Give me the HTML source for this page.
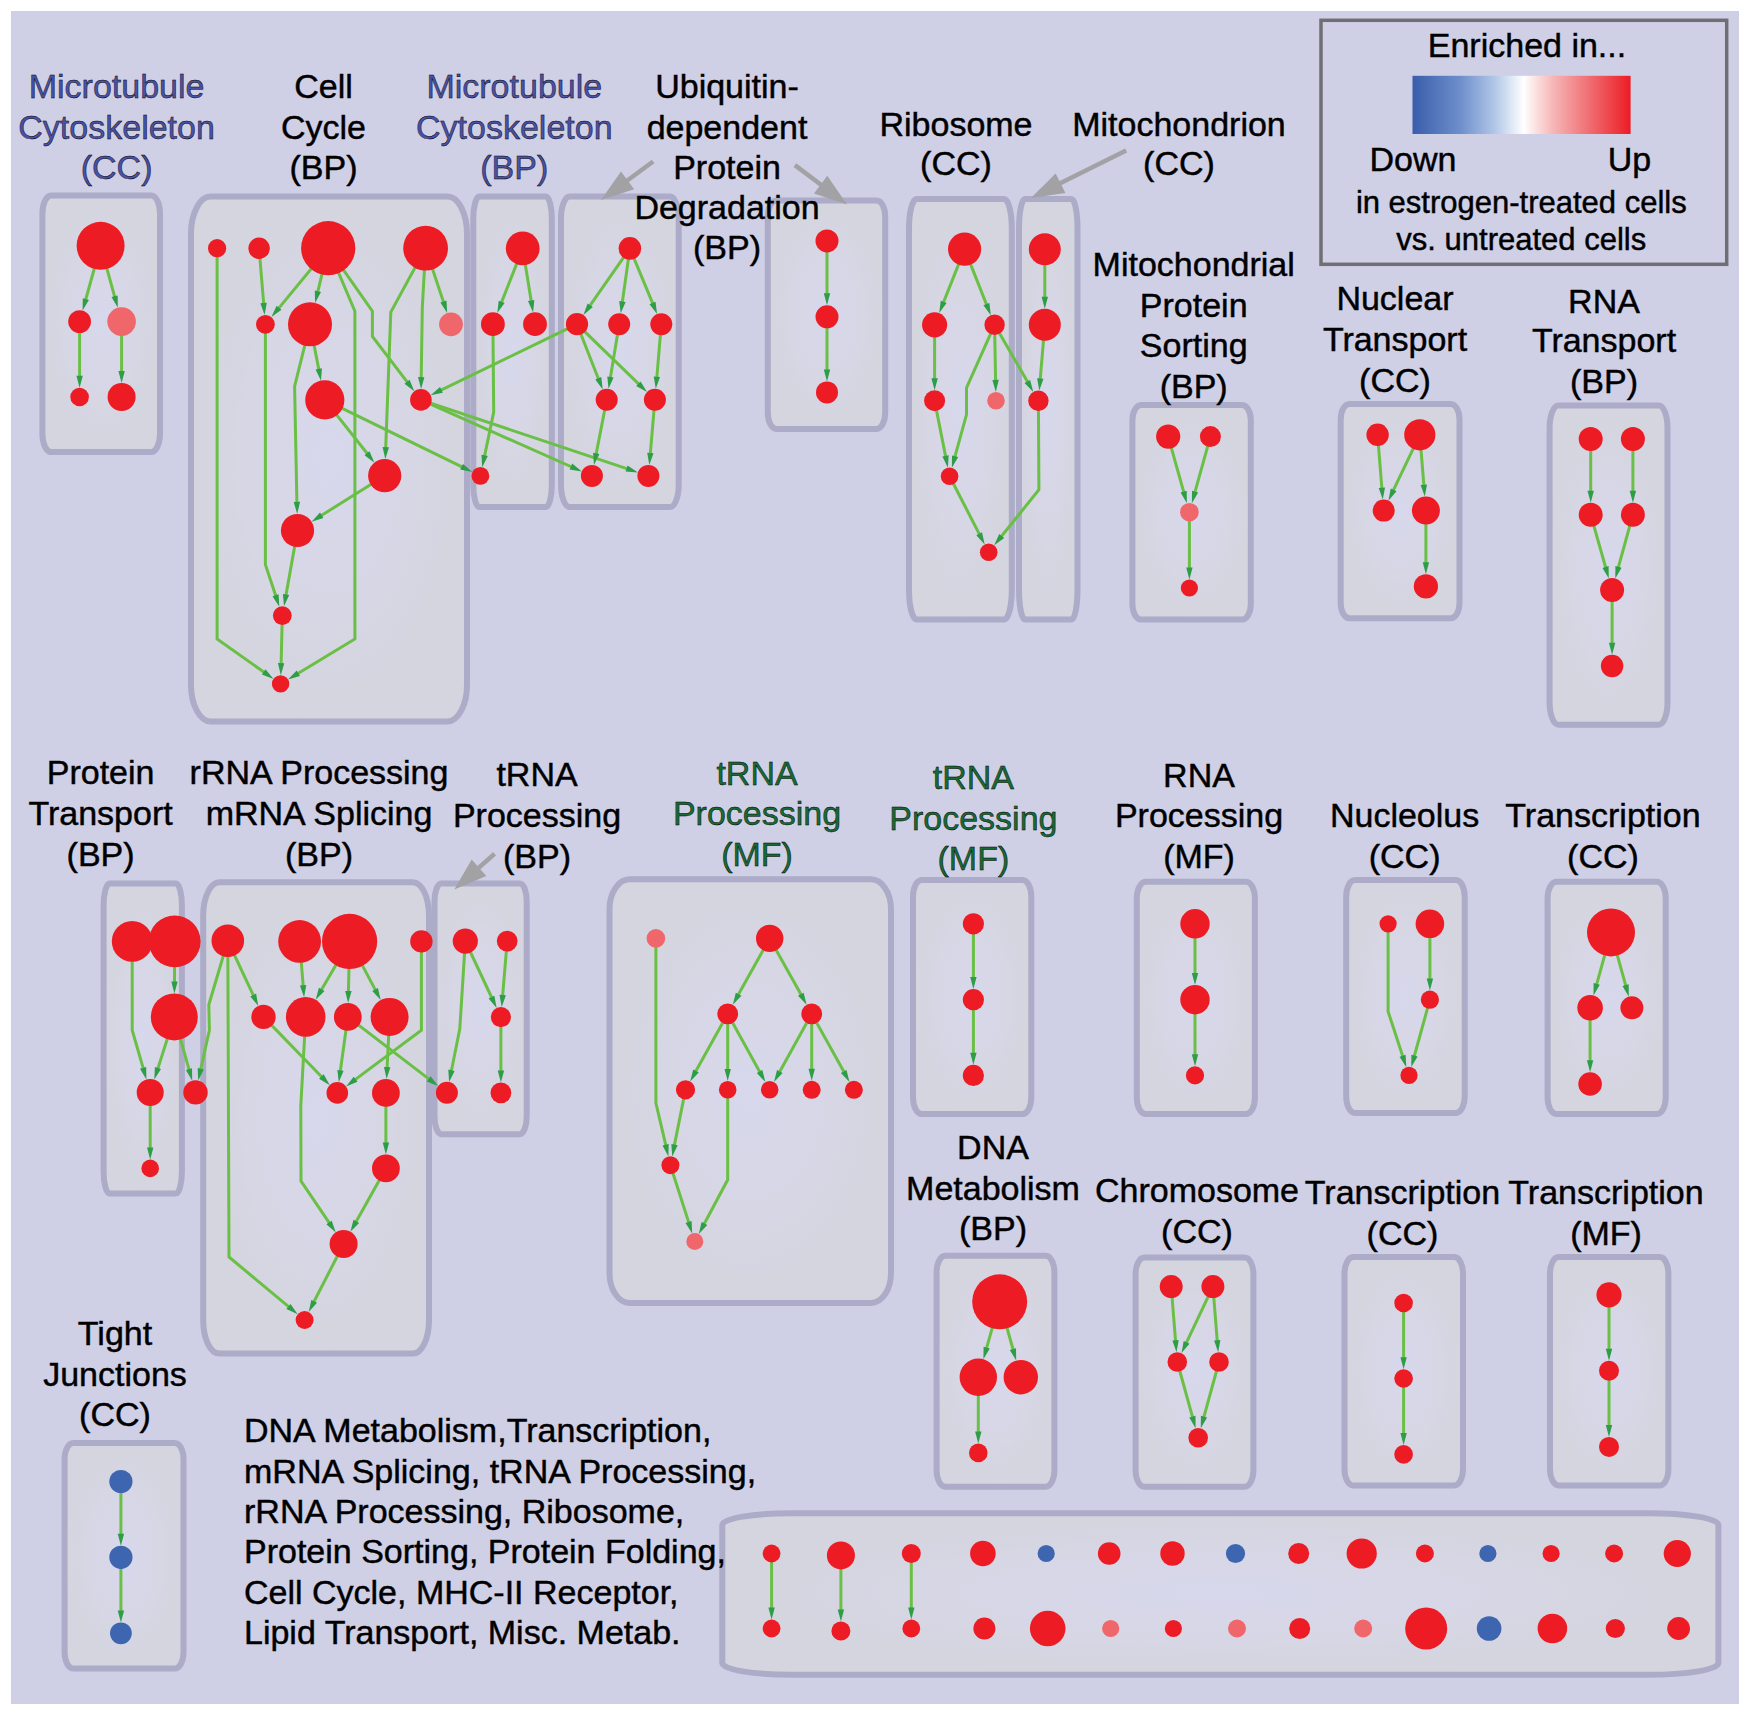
<!DOCTYPE html><html><head><meta charset="utf-8"><style>html,body{margin:0;padding:0;background:#fff;width:1750px;height:1715px;overflow:hidden}svg{display:block}text{font-family:"Liberation Sans",sans-serif;stroke:#000;stroke-width:0.45px}</style></head><body>
<svg width="1750" height="1715" viewBox="0 0 1750 1715">
<defs><radialGradient id="bx" cx="0.5" cy="0.5" r="0.5"><stop offset="0" stop-color="#d8d8ed"/><stop offset="1" stop-color="#d5d5df"/></radialGradient>
<linearGradient id="lg" x1="0" x2="1" y1="0" y2="0"><stop offset="0" stop-color="#3a5dab"/><stop offset="0.22" stop-color="#6e8fcc"/><stop offset="0.38" stop-color="#b3c8e8"/><stop offset="0.51" stop-color="#ffffff"/><stop offset="0.64" stop-color="#f7b8b9"/><stop offset="0.82" stop-color="#ef6a6e"/><stop offset="1" stop-color="#ed1c24"/></linearGradient></defs>
<rect x="11" y="11" width="1728" height="1693" fill="#cfcfe6"/>
<rect x="42.4" y="195.4" width="117.6" height="256.6" rx="8.7" ry="18.4" fill="url(#bx)" stroke="#acacc9" stroke-width="6"/>
<rect x="191" y="196.6" width="276" height="525" rx="19.7" ry="37.2" fill="url(#bx)" stroke="#acacc9" stroke-width="6"/>
<rect x="473.3" y="196.5" width="78.5" height="310.5" rx="6" ry="22.2" fill="url(#bx)" stroke="#acacc9" stroke-width="6"/>
<rect x="561" y="196.5" width="117.7" height="310.5" rx="8.7" ry="22.2" fill="url(#bx)" stroke="#acacc9" stroke-width="6"/>
<rect x="767.8" y="200.4" width="117.4" height="228.6" rx="8.6" ry="16.4" fill="url(#bx)" stroke="#acacc9" stroke-width="6"/>
<rect x="909" y="199" width="102.8" height="420.5" rx="7.6" ry="29.9" fill="url(#bx)" stroke="#acacc9" stroke-width="6"/>
<rect x="1019" y="199" width="58.5" height="420.5" rx="6" ry="29.9" fill="url(#bx)" stroke="#acacc9" stroke-width="6"/>
<rect x="1132.4" y="405" width="118.4" height="214.5" rx="8.7" ry="15.4" fill="url(#bx)" stroke="#acacc9" stroke-width="6"/>
<rect x="1340.7" y="404" width="118.8" height="214.3" rx="8.7" ry="15.4" fill="url(#bx)" stroke="#acacc9" stroke-width="6"/>
<rect x="1549.6" y="405.4" width="117.9" height="319.3" rx="8.7" ry="22.8" fill="url(#bx)" stroke="#acacc9" stroke-width="6"/>
<rect x="103.6" y="883.6" width="78.3" height="309.9" rx="6" ry="22.1" fill="url(#bx)" stroke="#acacc9" stroke-width="6"/>
<rect x="203.2" y="882.2" width="225.8" height="471.4" rx="16.2" ry="33.4" fill="url(#bx)" stroke="#acacc9" stroke-width="6"/>
<rect x="434.5" y="883.4" width="92.2" height="250.8" rx="6.9" ry="18" fill="url(#bx)" stroke="#acacc9" stroke-width="6"/>
<rect x="609.5" y="879.3" width="281.5" height="423.7" rx="20.1" ry="30.1" fill="url(#bx)" stroke="#acacc9" stroke-width="6"/>
<rect x="913" y="879.9" width="118.3" height="234.2" rx="8.7" ry="16.8" fill="url(#bx)" stroke="#acacc9" stroke-width="6"/>
<rect x="1136.8" y="881.8" width="118.1" height="232.3" rx="8.7" ry="16.7" fill="url(#bx)" stroke="#acacc9" stroke-width="6"/>
<rect x="1346.2" y="880.1" width="118.5" height="232.9" rx="8.7" ry="16.7" fill="url(#bx)" stroke="#acacc9" stroke-width="6"/>
<rect x="1547.6" y="881.8" width="118.1" height="232.2" rx="8.7" ry="16.7" fill="url(#bx)" stroke="#acacc9" stroke-width="6"/>
<rect x="936.6" y="1255.7" width="117.8" height="231.1" rx="8.7" ry="16.6" fill="url(#bx)" stroke="#acacc9" stroke-width="6"/>
<rect x="1135.6" y="1257.6" width="117.8" height="229.2" rx="8.7" ry="16.5" fill="url(#bx)" stroke="#acacc9" stroke-width="6"/>
<rect x="1344.5" y="1257" width="118.5" height="228.4" rx="8.7" ry="16.4" fill="url(#bx)" stroke="#acacc9" stroke-width="6"/>
<rect x="1550" y="1257" width="118.4" height="228.4" rx="8.7" ry="16.4" fill="url(#bx)" stroke="#acacc9" stroke-width="6"/>
<rect x="64.6" y="1442.9" width="118.9" height="225.6" rx="8.7" ry="16.2" fill="url(#bx)" stroke="#acacc9" stroke-width="6"/>
<rect x="722.3" y="1513.2" width="996.1" height="161.6" rx="70.1" ry="11.7" fill="url(#bx)" stroke="#acacc9" stroke-width="6"/>
<g fill="none" stroke="#6abf45" stroke-width="3" stroke-linejoin="miter"><polyline points="100.6,245.8 85.6,300"/><polyline points="100.6,245.8 114.8,297.2"/><polyline points="79.6,321.6 79.6,376.7"/><polyline points="121.6,321.6 121.6,372"/><polyline points="217.1,248.2 217.1,639 264.5,672.5"/><polyline points="259.1,248.2 263.7,304"/><polyline points="328.2,248.2 278.4,308.6"/><polyline points="328.2,248.2 317.7,292.2"/><polyline points="328.2,248.2 354.9,311.2 354.9,639 297.5,673.7"/><polyline points="328.2,248.2 372.4,311.2 372.4,336.5 407.7,382.6"/><polyline points="425.6,248.2 390.8,312.1 385.7,448.1"/><polyline points="425.6,248.2 422.3,307.7 421.2,378.1"/><polyline points="425.6,248.2 443.7,302.6"/><polyline points="265.4,324.3 265.4,564.6 275.9,596.2"/><polyline points="310,324.3 294.6,386.4 296.9,502.9"/><polyline points="310,324.3 318.9,369.9"/><polyline points="324.8,399.9 367.6,454"/><polyline points="324.8,399.9 462.5,467.2"/><polyline points="420.9,399.9 571.8,467"/><polyline points="420.9,399.9 627.5,468.9"/><polyline points="384.7,475.7 320.9,515.8"/><polyline points="297.5,530.5 285.9,595.5"/><polyline points="282.3,615.6 281.1,664.2"/><polyline points="577,324.2 440.5,390.4"/><polyline points="522.7,248.4 501.3,302.9"/><polyline points="522.7,248.4 531.3,301.6"/><polyline points="492.9,324.2 493.7,412 484.5,456.4"/><polyline points="629.9,248.4 589.6,306.1"/><polyline points="629.9,248.4 622.3,302.4"/><polyline points="629.9,248.4 652.9,303.9"/><polyline points="577,324.2 598.6,379.2"/><polyline points="577,324.2 639.1,384.4"/><polyline points="619.2,324.2 610.3,378"/><polyline points="661.3,324.2 656.8,377.8"/><polyline points="606.7,399.7 596.1,454.3"/><polyline points="654.9,399.7 650.3,454"/><polyline points="827,240.9 827,294.3"/><polyline points="827,316.8 827,370.4"/><polyline points="964.6,249.2 943.3,302.9"/><polyline points="964.6,249.2 986.8,305.1"/><polyline points="934.6,324.8 934.6,379.2"/><polyline points="994.6,324.8 966.5,387.8 966.5,414.6 954.8,457.2"/><polyline points="994.6,324.8 995.6,380.9"/><polyline points="994.6,324.8 1027.8,382.3"/><polyline points="1044.8,249.2 1044.8,297.8"/><polyline points="1044.8,324.8 1040.2,379.6"/><polyline points="934.6,400.7 945.7,456.9"/><polyline points="949.6,476.3 979.6,534.6"/><polyline points="1038.4,400.7 1038.9,489.7 1001.1,536.8"/><polyline points="1168.2,436.6 1183.9,492.7"/><polyline points="1210.4,436.6 1194.8,492.6"/><polyline points="1189.4,512.2 1189.4,568.4"/><polyline points="1377.6,434.8 1381.9,488.7"/><polyline points="1419.8,434.8 1393.2,490.7"/><polyline points="1419.8,434.8 1423.9,485.7"/><polyline points="1425.9,510.6 1425.9,563.3"/><polyline points="1590.7,439.1 1590.7,491.7"/><polyline points="1632.9,439.1 1632.9,491.7"/><polyline points="1590.7,514.7 1605.8,568"/><polyline points="1632.9,514.7 1618.2,567.9"/><polyline points="1612.1,590.1 1612.1,643.8"/><polyline points="132.2,941.4 132.2,1030.2 143.4,1068.9"/><polyline points="174.7,941.4 174.5,982.4"/><polyline points="174.3,1016.9 157.7,1069.1"/><polyline points="174.3,1016.9 189.2,1070.1"/><polyline points="150.2,1092.4 150.2,1148.6"/><polyline points="227.8,940.8 208.8,1004.7 209.4,1030.2 200.6,1069.8"/><polyline points="227.8,940.8 229,1257 289.2,1307.2"/><polyline points="227.8,940.8 253.6,995.9"/><polyline points="263.5,1016.9 322.1,1077.3"/><polyline points="299.6,941.4 303.2,986.2"/><polyline points="349.6,941.4 321.2,990.3"/><polyline points="349.6,941.4 348.4,992"/><polyline points="349.6,941.4 375.6,990.4"/><polyline points="421.4,941.4 421.4,1030.2 354.8,1079.9"/><polyline points="305.7,1016.9 300.8,1105.7 301,1181 329.6,1223.3"/><polyline points="347.8,1016.9 340.3,1071.3"/><polyline points="347.8,1016.9 429.4,1079.4"/><polyline points="389.6,1016.9 387.1,1068"/><polyline points="385.9,1092.9 385.9,1143.5"/><polyline points="385.9,1168.4 355.8,1222.2"/><polyline points="343.6,1244 313.7,1302.2"/><polyline points="465.3,941.1 459.8,1028.9 451.3,1071.2"/><polyline points="465.3,941.1 491.9,998"/><polyline points="507.2,941.1 502.6,996.1"/><polyline points="500.9,1017.1 500.9,1071.4"/><polyline points="655.9,938.4 655.9,1103 665.9,1145.7"/><polyline points="769.7,938.4 738.1,995.1"/><polyline points="769.7,938.4 801.3,995.1"/><polyline points="727.7,1013.8 695.5,1071.8"/><polyline points="727.7,1013.8 727.7,1070"/><polyline points="727.7,1013.8 760.1,1072.5"/><polyline points="811.7,1013.8 779.3,1072.5"/><polyline points="811.7,1013.8 811.7,1069.8"/><polyline points="811.7,1013.8 844.2,1072.3"/><polyline points="685.5,1089.8 674.3,1145.6"/><polyline points="670.4,1165.2 688.9,1222.9"/><polyline points="727.7,1089.8 727.7,1179.8 704,1224.3"/><polyline points="973.4,923.8 973.4,978.1"/><polyline points="973.4,999.7 973.4,1053.8"/><polyline points="1195,923.8 1195,974"/><polyline points="1195,999.7 1195,1055.3"/><polyline points="1429.9,923.8 1429.9,979.6"/><polyline points="1429.9,999.7 1414.2,1056.5"/><polyline points="1611,932.4 1596.5,984.9"/><polyline points="1611,932.4 1625.9,986.1"/><polyline points="1590.1,1007.8 1590.1,1061.2"/><polyline points="999.7,1301.8 986.4,1348.6"/><polyline points="999.7,1301.8 1013.2,1350"/><polyline points="978.3,1377.2 978.3,1432.6"/><polyline points="1171.2,1286.6 1175.6,1341.3"/><polyline points="1212.9,1286.6 1186.2,1343.2"/><polyline points="1212.9,1286.6 1217.3,1341.3"/><polyline points="1177.3,1362 1192.7,1417.7"/><polyline points="1219,1362 1203.7,1417.6"/><polyline points="1403.6,1303 1403.6,1358.2"/><polyline points="1403.6,1378.5 1403.6,1434.1"/><polyline points="1609,1294.8 1609,1349.7"/><polyline points="1609,1370.7 1609,1425.9"/><polyline points="120.9,1481.5 120.9,1534.7"/><polyline points="120.9,1557.3 120.9,1611.4"/><polyline points="771.6,1553.5 771.6,1608.6"/><polyline points="840.9,1555.4 840.9,1610.5"/><polyline points="911.3,1553.5 911.3,1608.6"/><polyline points="1388.1,923.8 1388.1,1011.5 1402.9,1056.8"/></g>
<g fill="#2d9d48"><polygon points="82.6,310.6 82.8,298.2 88.9,299.9"/><polygon points="117.8,307.8 111.5,297.1 117.7,295.4"/><polygon points="79.6,387.7 76.4,375.7 82.8,375.7"/><polygon points="121.6,383 118.4,371 124.8,371"/><polygon points="273.5,678.9 261.9,674.6 265.5,669.3"/><polygon points="264.6,314.9 260.4,303.2 266.8,302.7"/><polygon points="271.4,317 276.6,305.8 281.5,309.8"/><polygon points="315.1,302.9 314.8,290.5 321,292"/><polygon points="288,679.4 296.7,670.5 300,675.9"/><polygon points="414.3,391.3 404.5,383.7 409.6,379.8"/><polygon points="385.3,459.1 382.6,447 389,447.2"/><polygon points="421.1,389.1 418,377.1 424.4,377.2"/><polygon points="447.2,313 440.4,302.6 446.5,300.6"/><polygon points="279.3,606.7 272.5,596.3 278.6,594.3"/><polygon points="297.2,513.9 293.7,502 300.1,501.8"/><polygon points="321,380.7 315.6,369.5 321.9,368.3"/><polygon points="374.4,462.7 364.5,455.2 369.5,451.3"/><polygon points="472.4,472 460.2,469.6 463,463.9"/><polygon points="581.8,471.4 569.6,469.5 572.2,463.6"/><polygon points="638,472.4 625.6,471.6 627.6,465.6"/><polygon points="311.6,521.7 320,512.6 323.4,518"/><polygon points="284,606.3 282.9,594 289.2,595.1"/><polygon points="280.8,675.2 277.9,663.1 284.3,663.3"/><polygon points="430.6,395.2 440,387.1 442.8,392.8"/><polygon points="497.3,313.1 498.7,300.8 504.6,303.1"/><polygon points="533.1,312.5 528,301.1 534.3,300.1"/><polygon points="482.2,467.2 481.5,454.8 487.8,456.1"/><polygon points="583.4,315.1 587.6,303.4 592.8,307.1"/><polygon points="620.7,313.3 619.2,301 625.6,301.9"/><polygon points="657.1,314 649.5,304.2 655.5,301.7"/><polygon points="602.7,389.5 595.3,379.5 601.3,377.1"/><polygon points="647,392 636.2,386 640.6,381.4"/><polygon points="608.5,388.8 607.3,376.5 613.6,377.5"/><polygon points="655.8,388.7 653.7,376.5 660,377.1"/><polygon points="594,465.1 593.1,452.7 599.4,453.9"/><polygon points="649.3,464.9 647.2,452.7 653.5,453.3"/><polygon points="827,305.3 823.8,293.3 830.2,293.3"/><polygon points="827,381.4 823.8,369.4 830.2,369.4"/><polygon points="939.2,313.1 940.7,300.8 946.6,303.1"/><polygon points="990.8,315.3 983.4,305.3 989.4,303"/><polygon points="934.6,390.2 931.4,378.2 937.8,378.2"/><polygon points="951.9,467.8 952,455.4 958.2,457.1"/><polygon points="995.8,391.9 992.4,380 998.8,379.8"/><polygon points="1033.3,391.9 1024.5,383.1 1030.1,379.9"/><polygon points="1044.8,308.8 1041.6,296.8 1048,296.8"/><polygon points="1039.3,390.5 1037.1,378.3 1043.5,378.8"/><polygon points="947.9,467.7 942.4,456.5 948.7,455.3"/><polygon points="984.7,544.4 976.3,535.2 982,532.2"/><polygon points="994.2,545.3 999.2,534 1004.2,538"/><polygon points="1186.9,503.2 1180.6,492.6 1186.7,490.8"/><polygon points="1191.9,503.2 1192,490.8 1198.2,492.5"/><polygon points="1189.4,579.4 1186.2,567.4 1192.6,567.4"/><polygon points="1382.8,499.6 1378.7,487.9 1385,487.4"/><polygon points="1388.4,500.7 1390.7,488.5 1396.5,491.2"/><polygon points="1424.8,496.6 1420.6,484.9 1427,484.4"/><polygon points="1425.9,574.3 1422.7,562.3 1429.1,562.3"/><polygon points="1590.7,502.7 1587.5,490.7 1593.9,490.7"/><polygon points="1632.9,502.7 1629.7,490.7 1636.1,490.7"/><polygon points="1608.8,578.6 1602.5,567.9 1608.6,566.1"/><polygon points="1615.3,578.5 1615.4,566.1 1621.6,567.8"/><polygon points="1612.1,654.8 1608.9,642.8 1615.3,642.8"/><polygon points="146.4,1079.4 140,1068.8 146.2,1067"/><polygon points="174.4,993.4 171.3,981.4 177.7,981.4"/><polygon points="154.3,1079.5 154.9,1067.1 161,1069.1"/><polygon points="192.2,1080.7 185.9,1070 192,1068.2"/><polygon points="150.2,1159.6 147,1147.6 153.4,1147.6"/><polygon points="198.2,1080.5 197.7,1068.1 203.9,1069.5"/><polygon points="297.7,1314.2 286.4,1309 290.5,1304.1"/><polygon points="258.3,1005.9 250.3,996.4 256.1,993.6"/><polygon points="329.8,1085.2 319.1,1078.8 323.7,1074.3"/><polygon points="304.1,997.2 299.9,985.5 306.3,984.9"/><polygon points="315.7,999.8 318.9,987.8 324.5,991"/><polygon points="348.1,1003 345.2,990.9 351.6,991.1"/><polygon points="380.7,1000.1 372.3,991 377.9,988"/><polygon points="346,1086.4 353.7,1076.7 357.5,1081.8"/><polygon points="335.8,1232.4 326.4,1224.3 331.7,1220.7"/><polygon points="338.8,1082.2 337.3,1069.9 343.6,1070.8"/><polygon points="438.2,1086.1 426.7,1081.4 430.6,1076.3"/><polygon points="386.6,1079 384,1066.9 390.4,1067.2"/><polygon points="385.9,1154.5 382.7,1142.5 389.1,1142.5"/><polygon points="350.4,1231.8 353.5,1219.7 359.1,1222.9"/><polygon points="308.7,1312 311.3,1299.9 317,1302.8"/><polygon points="449.1,1082 448.3,1069.6 454.6,1070.9"/><polygon points="496.6,1008 488.6,998.4 494.4,995.7"/><polygon points="501.7,1007 499.5,994.8 505.9,995.3"/><polygon points="500.9,1082.4 497.7,1070.4 504.1,1070.4"/><polygon points="668.4,1156.4 662.5,1145.5 668.7,1144"/><polygon points="732.8,1004.7 735.8,992.7 741.4,995.8"/><polygon points="806.6,1004.7 798,995.8 803.6,992.7"/><polygon points="690.2,1081.4 693.2,1069.4 698.8,1072.5"/><polygon points="727.7,1081 724.5,1069 730.9,1069"/><polygon points="765.4,1082.1 756.8,1073.1 762.4,1070"/><polygon points="774,1082.1 777,1070 782.6,1073.1"/><polygon points="811.7,1080.8 808.5,1068.8 814.9,1068.8"/><polygon points="849.5,1081.9 840.9,1073 846.5,1069.9"/><polygon points="672.2,1156.4 671.4,1144 677.7,1145.2"/><polygon points="692.2,1233.4 685.5,1222.9 691.6,1221"/><polygon points="698.8,1234 701.6,1221.9 707.3,1224.9"/><polygon points="973.4,989.1 970.2,977.1 976.6,977.1"/><polygon points="973.4,1064.8 970.2,1052.8 976.6,1052.8"/><polygon points="1195,985 1191.8,973 1198.2,973"/><polygon points="1195,1066.3 1191.8,1054.3 1198.2,1054.3"/><polygon points="1429.9,990.6 1426.7,978.6 1433.1,978.6"/><polygon points="1411.3,1067.1 1411.4,1054.7 1417.6,1056.4"/><polygon points="1593.5,995.5 1593.6,983 1599.8,984.8"/><polygon points="1628.8,996.7 1622.5,986 1628.7,984.3"/><polygon points="1590.1,1072.2 1586.9,1060.2 1593.3,1060.2"/><polygon points="983.4,1359.2 983.6,1346.8 989.8,1348.5"/><polygon points="1016.2,1360.6 1009.8,1349.9 1016,1348.2"/><polygon points="978.3,1443.6 975.1,1431.6 981.5,1431.6"/><polygon points="1176.5,1352.2 1172.4,1340.5 1178.7,1340"/><polygon points="1181.5,1353.1 1183.7,1340.9 1189.5,1343.7"/><polygon points="1218.2,1352.2 1214.1,1340.5 1220.4,1340"/><polygon points="1195.6,1428.3 1189.3,1417.5 1195.5,1415.8"/><polygon points="1200.8,1428.3 1200.9,1415.8 1207.1,1417.5"/><polygon points="1403.6,1369.2 1400.4,1357.2 1406.8,1357.2"/><polygon points="1403.6,1445.1 1400.4,1433.1 1406.8,1433.1"/><polygon points="1609,1360.7 1605.8,1348.7 1612.2,1348.7"/><polygon points="1609,1436.9 1605.8,1424.9 1612.2,1424.9"/><polygon points="120.9,1545.7 117.7,1533.7 124.1,1533.7"/><polygon points="120.9,1622.4 117.7,1610.4 124.1,1610.4"/><polygon points="771.6,1619.6 768.4,1607.6 774.8,1607.6"/><polygon points="840.9,1621.5 837.7,1609.5 844.1,1609.5"/><polygon points="911.3,1619.6 908.1,1607.6 914.5,1607.6"/><polygon points="1406.3,1067.2 1399.6,1056.8 1405.6,1054.8"/></g>
<circle cx="100.6" cy="245.8" r="24" fill="#ed1c24"/>
<circle cx="79.6" cy="321.6" r="11.4" fill="#ed1c24"/>
<circle cx="121.6" cy="321.6" r="14.3" fill="#f0676b"/>
<circle cx="79.6" cy="397" r="9.3" fill="#ed1c24"/>
<circle cx="121.6" cy="397" r="14" fill="#ed1c24"/>
<circle cx="217.1" cy="248.2" r="9.1" fill="#ed1c24"/>
<circle cx="259.1" cy="248.2" r="10.7" fill="#ed1c24"/>
<circle cx="328.2" cy="248.2" r="27.1" fill="#ed1c24"/>
<circle cx="425.6" cy="248.2" r="22.4" fill="#ed1c24"/>
<circle cx="265.4" cy="324.3" r="9.4" fill="#ed1c24"/>
<circle cx="310" cy="324.3" r="22" fill="#ed1c24"/>
<circle cx="451" cy="324.3" r="11.9" fill="#f0676b"/>
<circle cx="324.8" cy="399.9" r="19.6" fill="#ed1c24"/>
<circle cx="420.9" cy="399.9" r="10.8" fill="#ed1c24"/>
<circle cx="384.7" cy="475.7" r="16.6" fill="#ed1c24"/>
<circle cx="297.5" cy="530.5" r="16.6" fill="#ed1c24"/>
<circle cx="282.3" cy="615.6" r="9.4" fill="#ed1c24"/>
<circle cx="280.6" cy="683.9" r="8.7" fill="#ed1c24"/>
<circle cx="522.7" cy="248.4" r="16.9" fill="#ed1c24"/>
<circle cx="492.9" cy="324.2" r="11.9" fill="#ed1c24"/>
<circle cx="535" cy="324.2" r="11.9" fill="#ed1c24"/>
<circle cx="480.4" cy="475.9" r="8.9" fill="#ed1c24"/>
<circle cx="629.9" cy="248.4" r="11.3" fill="#ed1c24"/>
<circle cx="577" cy="324.2" r="11.1" fill="#ed1c24"/>
<circle cx="619.2" cy="324.2" r="11" fill="#ed1c24"/>
<circle cx="661.3" cy="324.2" r="11" fill="#ed1c24"/>
<circle cx="606.7" cy="399.7" r="11" fill="#ed1c24"/>
<circle cx="654.9" cy="399.7" r="11" fill="#ed1c24"/>
<circle cx="591.9" cy="475.9" r="11" fill="#ed1c24"/>
<circle cx="648.4" cy="475.9" r="11" fill="#ed1c24"/>
<circle cx="827" cy="240.9" r="11.5" fill="#ed1c24"/>
<circle cx="827" cy="316.8" r="11.5" fill="#ed1c24"/>
<circle cx="827" cy="392.4" r="11" fill="#ed1c24"/>
<circle cx="964.6" cy="249.2" r="16.6" fill="#ed1c24"/>
<circle cx="934.6" cy="324.8" r="12.6" fill="#ed1c24"/>
<circle cx="994.6" cy="324.8" r="10.2" fill="#ed1c24"/>
<circle cx="934.6" cy="400.7" r="10.5" fill="#ed1c24"/>
<circle cx="996" cy="400.7" r="8.8" fill="#f0676b"/>
<circle cx="949.6" cy="476.3" r="8.8" fill="#ed1c24"/>
<circle cx="988.7" cy="552.2" r="8.8" fill="#ed1c24"/>
<circle cx="1044.8" cy="249.2" r="16" fill="#ed1c24"/>
<circle cx="1044.8" cy="324.8" r="16" fill="#ed1c24"/>
<circle cx="1038.4" cy="400.7" r="10.2" fill="#ed1c24"/>
<circle cx="1168.2" cy="436.6" r="12.1" fill="#ed1c24"/>
<circle cx="1210.4" cy="436.6" r="10.5" fill="#ed1c24"/>
<circle cx="1189.4" cy="512.2" r="9.3" fill="#f0676b"/>
<circle cx="1189.4" cy="588" r="8.6" fill="#ed1c24"/>
<circle cx="1377.6" cy="434.8" r="11.2" fill="#ed1c24"/>
<circle cx="1419.8" cy="434.8" r="15.6" fill="#ed1c24"/>
<circle cx="1383.7" cy="510.6" r="11" fill="#ed1c24"/>
<circle cx="1425.9" cy="510.6" r="14" fill="#ed1c24"/>
<circle cx="1425.9" cy="586.4" r="12.1" fill="#ed1c24"/>
<circle cx="1590.7" cy="439.1" r="12" fill="#ed1c24"/>
<circle cx="1632.9" cy="439.1" r="12" fill="#ed1c24"/>
<circle cx="1590.7" cy="514.7" r="12" fill="#ed1c24"/>
<circle cx="1632.9" cy="514.7" r="12" fill="#ed1c24"/>
<circle cx="1612.1" cy="590.1" r="12" fill="#ed1c24"/>
<circle cx="1612.1" cy="666" r="11.2" fill="#ed1c24"/>
<circle cx="132.2" cy="941.4" r="20.4" fill="#ed1c24"/>
<circle cx="174.7" cy="941.4" r="25.9" fill="#ed1c24"/>
<circle cx="174.3" cy="1016.9" r="23.5" fill="#ed1c24"/>
<circle cx="150.2" cy="1092.4" r="13.5" fill="#ed1c24"/>
<circle cx="195.5" cy="1092.4" r="12.2" fill="#ed1c24"/>
<circle cx="150.2" cy="1168.4" r="8.8" fill="#ed1c24"/>
<circle cx="227.8" cy="940.8" r="16.3" fill="#ed1c24"/>
<circle cx="263.5" cy="1016.9" r="12.2" fill="#ed1c24"/>
<circle cx="299.6" cy="941.4" r="21.4" fill="#ed1c24"/>
<circle cx="349.6" cy="941.4" r="27.6" fill="#ed1c24"/>
<circle cx="421.4" cy="941.4" r="11.2" fill="#ed1c24"/>
<circle cx="305.7" cy="1016.9" r="19.8" fill="#ed1c24"/>
<circle cx="347.8" cy="1016.9" r="13.9" fill="#ed1c24"/>
<circle cx="389.6" cy="1016.9" r="19" fill="#ed1c24"/>
<circle cx="337.3" cy="1092.9" r="10.8" fill="#ed1c24"/>
<circle cx="385.9" cy="1092.9" r="13.9" fill="#ed1c24"/>
<circle cx="385.9" cy="1168.4" r="13.9" fill="#ed1c24"/>
<circle cx="343.6" cy="1244" r="14" fill="#ed1c24"/>
<circle cx="304.6" cy="1320" r="9" fill="#ed1c24"/>
<circle cx="465.3" cy="941.1" r="12.6" fill="#ed1c24"/>
<circle cx="507.2" cy="941.1" r="10.4" fill="#ed1c24"/>
<circle cx="500.9" cy="1017.1" r="10.1" fill="#ed1c24"/>
<circle cx="446.9" cy="1092.8" r="11" fill="#ed1c24"/>
<circle cx="500.9" cy="1092.8" r="10.4" fill="#ed1c24"/>
<circle cx="655.9" cy="938.4" r="9.3" fill="#f0676b"/>
<circle cx="769.7" cy="938.4" r="13.7" fill="#ed1c24"/>
<circle cx="727.7" cy="1013.8" r="10.4" fill="#ed1c24"/>
<circle cx="811.7" cy="1013.8" r="10.4" fill="#ed1c24"/>
<circle cx="685.5" cy="1089.8" r="9.6" fill="#ed1c24"/>
<circle cx="727.7" cy="1089.8" r="8.8" fill="#ed1c24"/>
<circle cx="769.7" cy="1089.8" r="8.8" fill="#ed1c24"/>
<circle cx="811.7" cy="1089.8" r="9" fill="#ed1c24"/>
<circle cx="853.9" cy="1089.8" r="9" fill="#ed1c24"/>
<circle cx="670.4" cy="1165.2" r="9" fill="#ed1c24"/>
<circle cx="694.8" cy="1241.5" r="8.5" fill="#f0676b"/>
<circle cx="973.4" cy="923.8" r="10.6" fill="#ed1c24"/>
<circle cx="973.4" cy="999.7" r="10.6" fill="#ed1c24"/>
<circle cx="973.4" cy="1075.4" r="10.6" fill="#ed1c24"/>
<circle cx="1195" cy="923.8" r="14.7" fill="#ed1c24"/>
<circle cx="1195" cy="999.7" r="14.7" fill="#ed1c24"/>
<circle cx="1195" cy="1075.4" r="9.1" fill="#ed1c24"/>
<circle cx="1388.1" cy="923.8" r="8.6" fill="#ed1c24"/>
<circle cx="1429.9" cy="923.8" r="14.3" fill="#ed1c24"/>
<circle cx="1429.9" cy="999.7" r="9.1" fill="#ed1c24"/>
<circle cx="1409" cy="1075.4" r="8.6" fill="#ed1c24"/>
<circle cx="1611" cy="932.4" r="24" fill="#ed1c24"/>
<circle cx="1590.1" cy="1007.8" r="12.8" fill="#ed1c24"/>
<circle cx="1631.9" cy="1007.8" r="11.5" fill="#ed1c24"/>
<circle cx="1590.1" cy="1084" r="11.8" fill="#ed1c24"/>
<circle cx="999.7" cy="1301.8" r="27.5" fill="#ed1c24"/>
<circle cx="978.3" cy="1377.2" r="18.7" fill="#ed1c24"/>
<circle cx="1020.8" cy="1377.2" r="17.2" fill="#ed1c24"/>
<circle cx="978.3" cy="1452.9" r="9.3" fill="#ed1c24"/>
<circle cx="1171.2" cy="1286.6" r="11.5" fill="#ed1c24"/>
<circle cx="1212.9" cy="1286.6" r="11.5" fill="#ed1c24"/>
<circle cx="1177.3" cy="1362" r="9.8" fill="#ed1c24"/>
<circle cx="1219" cy="1362" r="9.8" fill="#ed1c24"/>
<circle cx="1198.2" cy="1437.7" r="9.8" fill="#ed1c24"/>
<circle cx="1403.6" cy="1303" r="9.3" fill="#ed1c24"/>
<circle cx="1403.6" cy="1378.5" r="9.3" fill="#ed1c24"/>
<circle cx="1403.6" cy="1454.4" r="9.3" fill="#ed1c24"/>
<circle cx="1609" cy="1294.8" r="12.6" fill="#ed1c24"/>
<circle cx="1609" cy="1370.7" r="10" fill="#ed1c24"/>
<circle cx="1609" cy="1446.9" r="10" fill="#ed1c24"/>
<circle cx="120.9" cy="1481.5" r="11.6" fill="#3e66b0"/>
<circle cx="120.9" cy="1557.3" r="11.6" fill="#3e66b0"/>
<circle cx="120.9" cy="1633.3" r="10.9" fill="#3e66b0"/>
<circle cx="771.6" cy="1553.5" r="8.9" fill="#ed1c24"/>
<circle cx="840.9" cy="1555.4" r="14" fill="#ed1c24"/>
<circle cx="911.3" cy="1553.5" r="9.5" fill="#ed1c24"/>
<circle cx="982.9" cy="1553.5" r="12.8" fill="#ed1c24"/>
<circle cx="1046.2" cy="1553.5" r="8.6" fill="#3e66b0"/>
<circle cx="1109.2" cy="1553.5" r="11.3" fill="#ed1c24"/>
<circle cx="1172.5" cy="1553.5" r="12.2" fill="#ed1c24"/>
<circle cx="1235.5" cy="1553.5" r="9.6" fill="#3e66b0"/>
<circle cx="1298.7" cy="1553.5" r="10.5" fill="#ed1c24"/>
<circle cx="1361.7" cy="1553.5" r="15.1" fill="#ed1c24"/>
<circle cx="1424.9" cy="1553.5" r="9" fill="#ed1c24"/>
<circle cx="1487.9" cy="1553.5" r="8.6" fill="#3e66b0"/>
<circle cx="1551.1" cy="1553.5" r="8.6" fill="#ed1c24"/>
<circle cx="1614.1" cy="1553.5" r="9" fill="#ed1c24"/>
<circle cx="1677.3" cy="1553.5" r="13.6" fill="#ed1c24"/>
<circle cx="771.6" cy="1628.5" r="8.9" fill="#ed1c24"/>
<circle cx="840.9" cy="1631" r="9.5" fill="#ed1c24"/>
<circle cx="911.3" cy="1628.5" r="8.9" fill="#ed1c24"/>
<circle cx="984.4" cy="1628.5" r="11" fill="#ed1c24"/>
<circle cx="1047.7" cy="1628.5" r="17.8" fill="#ed1c24"/>
<circle cx="1110.7" cy="1628.5" r="8.6" fill="#f0676b"/>
<circle cx="1173.4" cy="1628.5" r="8.6" fill="#ed1c24"/>
<circle cx="1237" cy="1628.5" r="9" fill="#f0676b"/>
<circle cx="1299.7" cy="1628.5" r="10.5" fill="#ed1c24"/>
<circle cx="1363.2" cy="1628.5" r="9" fill="#f0676b"/>
<circle cx="1426.2" cy="1628.5" r="21" fill="#ed1c24"/>
<circle cx="1489.1" cy="1628.5" r="12.3" fill="#3e66b0"/>
<circle cx="1552.4" cy="1628.5" r="14.8" fill="#ed1c24"/>
<circle cx="1615.3" cy="1628.5" r="9.6" fill="#ed1c24"/>
<circle cx="1678.6" cy="1628.5" r="11.4" fill="#ed1c24"/>
<line x1="653.1" y1="161.5" x2="626" y2="181.5" stroke="#a2a2a4" stroke-width="4.5"/>
<polygon fill="#a2a2a4" points="601,199.9 621,171.5 634.1,189.2"/>
<line x1="794.9" y1="165.1" x2="822.3" y2="185.8" stroke="#a2a2a4" stroke-width="4.5"/>
<polygon fill="#a2a2a4" points="847,204.5 814,193.4 827.3,175.8"/>
<line x1="1126.1" y1="150.4" x2="1058.7" y2="184.1" stroke="#a2a2a4" stroke-width="4.5"/>
<polygon fill="#a2a2a4" points="1031,198 1055.6,173.4 1065.4,193.1"/>
<line x1="494.6" y1="853.8" x2="477.5" y2="868.9" stroke="#a2a2a4" stroke-width="4.5"/>
<polygon fill="#a2a2a4" points="454.3,889.5 471.7,859.4 486.3,875.9"/>
<text x="116.6" y="97.7" text-anchor="middle" font-size="34" fill="#4a52a6" stroke="#4a52a6">Microtubule</text>
<text x="116.6" y="138.5" text-anchor="middle" font-size="34" fill="#4a52a6" stroke="#4a52a6">Cytoskeleton</text>
<text x="116.6" y="178.5" text-anchor="middle" font-size="34" fill="#4a52a6" stroke="#4a52a6">(CC)</text>
<text x="323.5" y="97.7" text-anchor="middle" font-size="34" fill="#000" stroke="#000">Cell</text>
<text x="323.5" y="138.5" text-anchor="middle" font-size="34" fill="#000" stroke="#000">Cycle</text>
<text x="323.5" y="178.5" text-anchor="middle" font-size="34" fill="#000" stroke="#000">(BP)</text>
<text x="514.3" y="97.7" text-anchor="middle" font-size="34" fill="#4a52a6" stroke="#4a52a6">Microtubule</text>
<text x="514.3" y="138.7" text-anchor="middle" font-size="34" fill="#4a52a6" stroke="#4a52a6">Cytoskeleton</text>
<text x="514.3" y="178.6" text-anchor="middle" font-size="34" fill="#4a52a6" stroke="#4a52a6">(BP)</text>
<text x="727" y="98.4" text-anchor="middle" font-size="34" fill="#000" stroke="#000">Ubiquitin-</text>
<text x="727" y="138.6" text-anchor="middle" font-size="34" fill="#000" stroke="#000">dependent</text>
<text x="727" y="178.9" text-anchor="middle" font-size="34" fill="#000" stroke="#000">Protein</text>
<text x="727" y="219" text-anchor="middle" font-size="34" fill="#000" stroke="#000">Degradation</text>
<text x="727" y="259.3" text-anchor="middle" font-size="34" fill="#000" stroke="#000">(BP)</text>
<text x="956" y="136.3" text-anchor="middle" font-size="34" fill="#000" stroke="#000">Ribosome</text>
<text x="956" y="174.9" text-anchor="middle" font-size="34" fill="#000" stroke="#000">(CC)</text>
<text x="1179" y="136.3" text-anchor="middle" font-size="34" fill="#000" stroke="#000">Mitochondrion</text>
<text x="1179" y="174.9" text-anchor="middle" font-size="34" fill="#000" stroke="#000">(CC)</text>
<text x="1193.7" y="276.2" text-anchor="middle" font-size="34" fill="#000" stroke="#000">Mitochondrial</text>
<text x="1193.7" y="317" text-anchor="middle" font-size="34" fill="#000" stroke="#000">Protein</text>
<text x="1193.7" y="357" text-anchor="middle" font-size="34" fill="#000" stroke="#000">Sorting</text>
<text x="1193.7" y="398" text-anchor="middle" font-size="34" fill="#000" stroke="#000">(BP)</text>
<text x="1395" y="310" text-anchor="middle" font-size="34" fill="#000" stroke="#000">Nuclear</text>
<text x="1395" y="350.8" text-anchor="middle" font-size="34" fill="#000" stroke="#000">Transport</text>
<text x="1395" y="391.6" text-anchor="middle" font-size="34" fill="#000" stroke="#000">(CC)</text>
<text x="1604" y="312.5" text-anchor="middle" font-size="34" fill="#000" stroke="#000">RNA</text>
<text x="1604" y="352.2" text-anchor="middle" font-size="34" fill="#000" stroke="#000">Transport</text>
<text x="1604" y="393.3" text-anchor="middle" font-size="34" fill="#000" stroke="#000">(BP)</text>
<text x="100.6" y="784.3" text-anchor="middle" font-size="34" fill="#000" stroke="#000">Protein</text>
<text x="100.6" y="825" text-anchor="middle" font-size="34" fill="#000" stroke="#000">Transport</text>
<text x="100.6" y="865.8" text-anchor="middle" font-size="34" fill="#000" stroke="#000">(BP)</text>
<text x="319" y="784.3" text-anchor="middle" font-size="34" fill="#000" stroke="#000">rRNA Processing</text>
<text x="319" y="825" text-anchor="middle" font-size="34" fill="#000" stroke="#000">mRNA Splicing</text>
<text x="319" y="865.8" text-anchor="middle" font-size="34" fill="#000" stroke="#000">(BP)</text>
<text x="537" y="786" text-anchor="middle" font-size="34" fill="#000" stroke="#000">tRNA</text>
<text x="537" y="826.8" text-anchor="middle" font-size="34" fill="#000" stroke="#000">Processing</text>
<text x="537" y="867.5" text-anchor="middle" font-size="34" fill="#000" stroke="#000">(BP)</text>
<text x="757" y="785.3" text-anchor="middle" font-size="34" fill="#176a34" stroke="#176a34">tRNA</text>
<text x="757" y="825" text-anchor="middle" font-size="34" fill="#176a34" stroke="#176a34">Processing</text>
<text x="757" y="866.2" text-anchor="middle" font-size="34" fill="#176a34" stroke="#176a34">(MF)</text>
<text x="973.4" y="789.1" text-anchor="middle" font-size="34" fill="#176a34" stroke="#176a34">tRNA</text>
<text x="973.4" y="829.7" text-anchor="middle" font-size="34" fill="#176a34" stroke="#176a34">Processing</text>
<text x="973.4" y="870.2" text-anchor="middle" font-size="34" fill="#176a34" stroke="#176a34">(MF)</text>
<text x="1199" y="786.7" text-anchor="middle" font-size="34" fill="#000" stroke="#000">RNA</text>
<text x="1199" y="827.2" text-anchor="middle" font-size="34" fill="#000" stroke="#000">Processing</text>
<text x="1199" y="867.8" text-anchor="middle" font-size="34" fill="#000" stroke="#000">(MF)</text>
<text x="1404.6" y="827.2" text-anchor="middle" font-size="34" fill="#000" stroke="#000">Nucleolus</text>
<text x="1404.6" y="867.8" text-anchor="middle" font-size="34" fill="#000" stroke="#000">(CC)</text>
<text x="1603" y="827.2" text-anchor="middle" font-size="34" fill="#000" stroke="#000">Transcription</text>
<text x="1603" y="867.8" text-anchor="middle" font-size="34" fill="#000" stroke="#000">(CC)</text>
<text x="993" y="1159.3" text-anchor="middle" font-size="34" fill="#000" stroke="#000">DNA</text>
<text x="993" y="1199.9" text-anchor="middle" font-size="34" fill="#000" stroke="#000">Metabolism</text>
<text x="993" y="1240.4" text-anchor="middle" font-size="34" fill="#000" stroke="#000">(BP)</text>
<text x="1197" y="1202.3" text-anchor="middle" font-size="34" fill="#000" stroke="#000">Chromosome</text>
<text x="1197" y="1242.9" text-anchor="middle" font-size="34" fill="#000" stroke="#000">(CC)</text>
<text x="1402.5" y="1203.7" text-anchor="middle" font-size="34" fill="#000" stroke="#000">Transcription</text>
<text x="1402.5" y="1244.5" text-anchor="middle" font-size="34" fill="#000" stroke="#000">(CC)</text>
<text x="1606" y="1203.7" text-anchor="middle" font-size="34" fill="#000" stroke="#000">Transcription</text>
<text x="1606" y="1244.5" text-anchor="middle" font-size="34" fill="#000" stroke="#000">(MF)</text>
<text x="115" y="1345.3" text-anchor="middle" font-size="34" fill="#000" stroke="#000">Tight</text>
<text x="115" y="1385.9" text-anchor="middle" font-size="34" fill="#000" stroke="#000">Junctions</text>
<text x="115" y="1425.8" text-anchor="middle" font-size="34" fill="#000" stroke="#000">(CC)</text>
<text x="244" y="1442.3" font-size="34">DNA Metabolism,Transcription,</text>
<text x="244" y="1482.6" font-size="34">mRNA Splicing, tRNA Processing,</text>
<text x="244" y="1522.9" font-size="34">rRNA Processing, Ribosome,</text>
<text x="244" y="1563.2" font-size="34">Protein Sorting, Protein Folding,</text>
<text x="244" y="1603.5" font-size="34">Cell Cycle, MHC-II Receptor,</text>
<text x="244" y="1643.8" font-size="34">Lipid Transport, Misc. Metab.</text>
<rect x="1321" y="20.3" width="405.7" height="244" fill="none" stroke="#6f6f73" stroke-width="3.5"/>
<rect x="1412.5" y="75.8" width="218.1" height="58.2" fill="url(#lg)"/>
<text x="1527" y="56.7" text-anchor="middle" font-size="34">Enriched in...</text>
<text x="1413" y="171" text-anchor="middle" font-size="34">Down</text>
<text x="1629.5" y="171" text-anchor="middle" font-size="34">Up</text>
<text x="1521.3" y="212.7" text-anchor="middle" font-size="31">in estrogen-treated cells</text>
<text x="1521.3" y="249.6" text-anchor="middle" font-size="31">vs. untreated cells</text>
</svg></body></html>
